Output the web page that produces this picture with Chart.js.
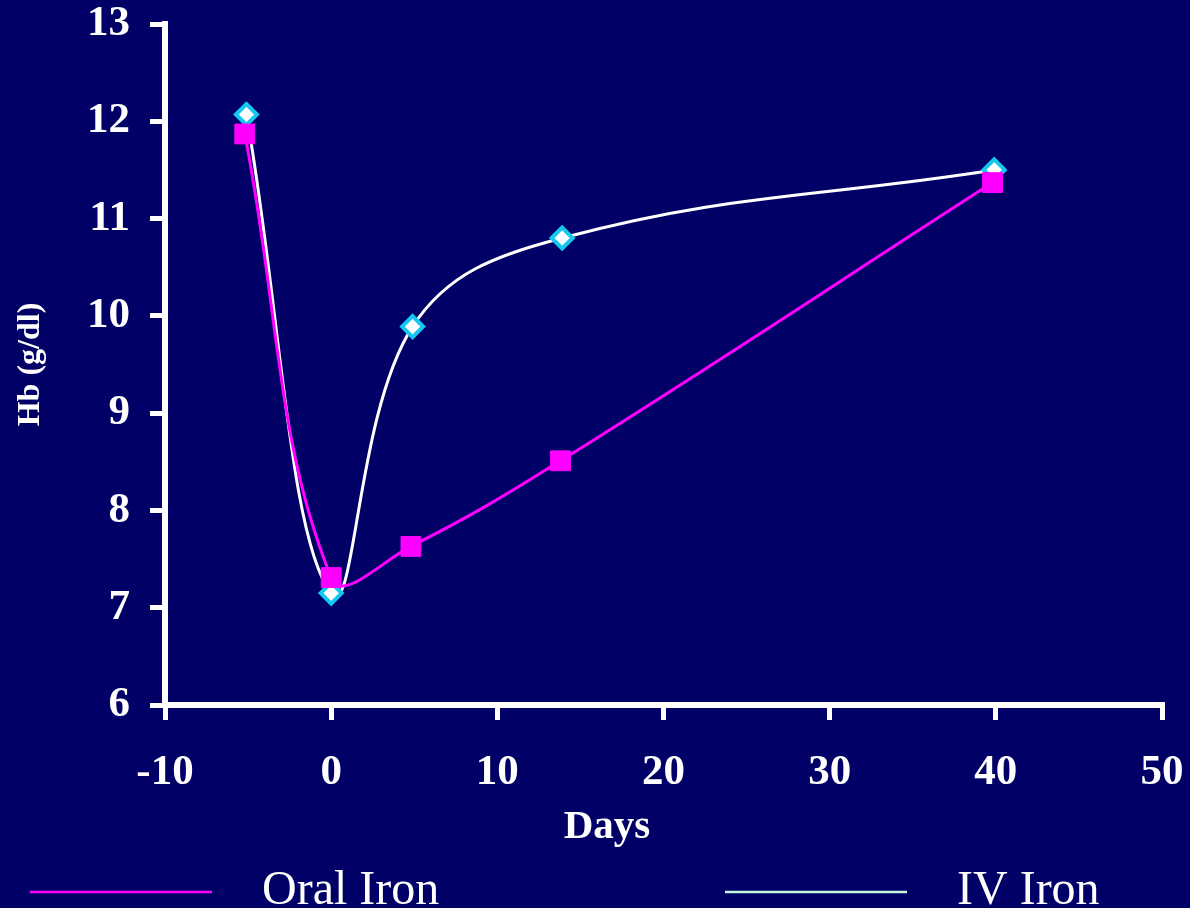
<!DOCTYPE html>
<html>
<head>
<meta charset="utf-8">
<script src="https://cdn.jsdelivr.net/npm/chart.js@4"></script>
<style>
  html, body { margin: 0; padding: 0; background: #000066; }
  canvas { display: block; }
</style>
</head>
<body>
<canvas id="hbChart" width="1190" height="908"></canvas>
<script>
// Hb recovery after blood loss, oral vs IV iron
const days = [-5.2, 0, 4.8, 13.8, 39.8];
const daysIV = [-5.1, 0, 4.9, 13.9, 39.9];
const oralIron = [11.87, 7.31, 7.63, 8.51, 11.37];
const ivIron = [12.07, 7.15, 9.89, 10.80, 11.50];
const xTicks = [-10, 0, 10, 20, 30, 40, 50];
const yTicks = [6, 7, 8, 9, 10, 11, 12, 13];

const SERIF = '"Liberation Serif", "Times New Roman", serif';

// "Days" sits left of the axis centre, so it is drawn here rather than by the scale
const daysTitle = {
  id: 'daysTitle',
  afterDraw(chart, args, opts) {
    const ctx = chart.ctx;
    ctx.save();
    ctx.fillStyle = '#ffffff';
    ctx.font = 'bold 41px ' + SERIF;
    ctx.textAlign = 'center';
    ctx.textBaseline = 'alphabetic';
    ctx.fillText(opts.text, opts.x, opts.y);
    ctx.restore();
  }
};

// legend drawn under the axis: a long line sample then the label
const bottomLegend = {
  id: 'bottomLegend',
  afterDraw(chart, args, opts) {
    const ctx = chart.ctx;
    ctx.save();
    chart.data.datasets.forEach((ds, i) => {
      const x = opts.starts[i];
      ctx.strokeStyle = ds.legendColor;
      ctx.lineWidth = 2.5;
      ctx.beginPath();
      ctx.moveTo(x, opts.lineY);
      ctx.lineTo(x + opts.lineLength, opts.lineY);
      ctx.stroke();
      ctx.fillStyle = '#ffffff';
      ctx.font = '48px ' + SERIF;
      ctx.textBaseline = 'alphabetic';
      ctx.fillText(ds.label, x + opts.textGap, opts.textY);
    });
    ctx.restore();
  }
};

const ctx = document.getElementById('hbChart').getContext('2d');

new Chart(ctx, {
  type: 'line',
  data: {
    datasets: [
      {
        label: 'Oral Iron',
        data: days.map((d, i) => ({ x: d, y: oralIron[i] })),
        borderColor: '#ff00ff',
        backgroundColor: '#ff00ff',
        legendColor: '#ff00ff',
        borderWidth: 3,
        tension: 0.4,
        pointStyle: 'rect',
        pointRadius: 14,
        pointBorderWidth: 1,
        pointBorderColor: '#ff00ff',
        pointBackgroundColor: '#ff00ff'
      },
      {
        label: 'IV Iron',
        data: daysIV.map((d, i) => ({ x: d, y: ivIron[i] })),
        borderColor: '#ffffff',
        backgroundColor: '#ffffff',
        legendColor: '#c8f5e0',
        borderWidth: 3,
        tension: 0.4,
        pointStyle: 'rectRot',
        pointRadius: 10.5,
        pointBorderWidth: 4,
        pointBorderColor: '#14c8f0',
        pointBackgroundColor: '#ffffff'
      }
    ]
  },
  options: {
    responsive: false,
    animation: false,
    devicePixelRatio: 1,
    layout: { padding: { top: 24, right: 28, bottom: 60, left: 0 } },
    plugins: {
      legend: { display: false },
      tooltip: { enabled: false },
      daysTitle: { text: 'Days', x: 607, y: 838 },
      bottomLegend: {
        starts: [30, 725],
        lineLength: 182,
        textGap: 232,
        lineY: 892,
        textY: 904
      }
    },
    scales: {
      x: {
        type: 'linear',
        min: xTicks[0],
        max: xTicks[xTicks.length - 1],
        afterFit(scale) {
          scale.height = 143;
          scale.paddingLeft = 0;
          scale.paddingRight = 0;
        },
        afterBuildTicks(scale) { scale.ticks = xTicks.map(v => ({ value: v })); },
        border: { color: '#ffffff', width: 6 },
        grid: { drawOnChartArea: false, color: '#ffffff', lineWidth: 5, tickLength: 15 },
        ticks: {
          color: '#ffffff',
          padding: 27,
          maxRotation: 0,
          font: { family: SERIF, size: 43, weight: 'bold' }
        },
        title: { display: false }
      },
      y: {
        min: yTicks[0],
        max: yTicks[yTicks.length - 1],
        afterFit(scale) {
          scale.width = 165;
          scale.paddingTop = 0;
          scale.paddingBottom = 0;
        },
        afterBuildTicks(scale) { scale.ticks = yTicks.map(v => ({ value: v })); },
        border: { color: '#ffffff', width: 6 },
        grid: { drawOnChartArea: false, color: '#ffffff', lineWidth: 5, tickLength: 15 },
        ticks: {
          color: '#ffffff',
          padding: 20,
          font: { family: SERIF, size: 43, weight: 'bold' }
        },
        title: {
          display: true,
          text: 'Hb (g/dl)',
          color: '#ffffff',
          padding: { top: 12, bottom: 0 },
          font: { family: SERIF, size: 32, weight: 'bold' }
        }
      }
    }
  },
  plugins: [daysTitle, bottomLegend]
});
</script>
</body>
</html>
